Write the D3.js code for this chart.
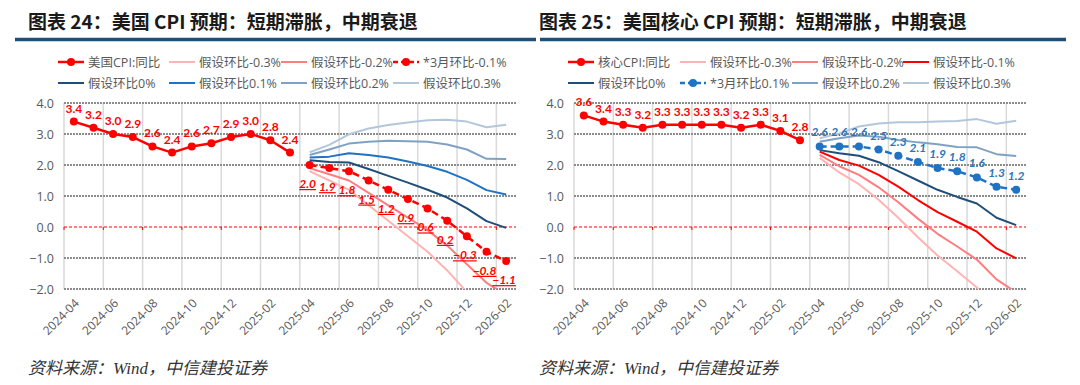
<!DOCTYPE html>
<html>
<head>
<meta charset="utf-8">
<script src="https://cdn.jsdelivr.net/npm/d3@7"></script>
<style>
  html, body { margin: 0; padding: 0; background: #fff; }
  svg { display: block; }
  text { font-family: "Lato", "Noto Sans CJK SC", sans-serif; }
</style>
</head>
<body>
<svg id="chart" width="1080" height="385"></svg>
<script>
// categories
var months = [ '2024-04', '2024-05', '2024-06', '2024-07', '2024-08', '2024-09', '2024-10', '2024-11',
               '2024-12', '2025-01', '2025-02', '2025-03', '2025-04', '2025-05', '2025-06', '2025-07',
               '2025-08', '2025-09', '2025-10', '2025-11', '2025-12', '2026-01', '2026-02' ];
var actualMonths = months.slice( 0, 12 ),
    projMonths   = months.slice( 12 );

var yTicks = [ 4, 3, 2, 1, 0, -1, -2 ];

// left chart: headline CPI
var cpiActual = [ 3.4, 3.2, 3.0, 2.9, 2.6, 2.4, 2.6, 2.7, 2.9, 3.0, 2.8, 2.4 ];
var cpiM03    = [ 1.8, 1.5, 1.2, 0.7, 0.2, -0.3, -0.8, -1.4, -2.1, -2.8, -3.3 ];
var cpiM02    = [ 1.9, 1.7, 1.5, 1.1, 0.7, 0.3, -0.1, -0.6, -1.2, -1.8, -2.2 ];
var cpiMarch  = [ 2.0, 1.9, 1.8, 1.5, 1.2, 0.9, 0.6, 0.2, -0.3, -0.8, -1.1 ];
var cpiP00    = [ 2.15, 2.1, 2.08, 1.87, 1.65, 1.43, 1.2, 0.95, 0.6, 0.19, -0.03 ];
var cpiP01    = [ 2.24, 2.27, 2.38, 2.32, 2.24, 2.11, 1.97, 1.78, 1.52, 1.19, 1.05 ];
var cpiP02    = [ 2.32, 2.5, 2.69, 2.75, 2.78, 2.77, 2.75, 2.66, 2.5, 2.2, 2.19 ];
var cpiP03    = [ 2.41, 2.65, 2.99, 3.18, 3.29, 3.37, 3.44, 3.46, 3.4, 3.22, 3.3 ];

// right chart: core CPI
var coreActual = [ 3.6, 3.4, 3.3, 3.2, 3.3, 3.3, 3.3, 3.3, 3.2, 3.3, 3.1, 2.8 ];
var coreM03    = [ 2.23, 1.76, 1.38, 0.88, 0.3, -0.33, -0.92, -1.43, -1.95, -2.69, -3.21 ];
var coreM02    = [ 2.33, 1.96, 1.68, 1.28, 0.8, 0.27, -0.22, -0.63, -1.05, -1.69, -2.11 ];
var coreM01    = [ 2.43, 2.16, 1.98, 1.68, 1.3, 0.87, 0.48, 0.17, -0.15, -0.69, -1.01 ];
var coreP00    = [ 2.48, 2.38, 2.3, 2.09, 1.8, 1.5, 1.2, 0.97, 0.76, 0.3, 0.06 ];
var coreMarch  = [ 2.6, 2.6, 2.6, 2.5, 2.3, 2.1, 1.9, 1.8, 1.6, 1.3, 1.2 ];
var coreP02    = [ 2.75, 2.86, 2.95, 2.91, 2.81, 2.73, 2.67, 2.58, 2.57, 2.35, 2.29 ];
var coreP03    = [ 2.86, 3.02, 3.24, 3.34, 3.38, 3.38, 3.4, 3.42, 3.48, 3.33, 3.43 ];

// colors
var cRed = '#ff0000', cPink2 = '#ff7c80', cPink3 = '#ffb3b3',
    cNavy = '#1f4e79', cBlue = '#1f73c4', cGrey2 = '#7fa2c4', cGrey3 = '#b3c7dc';

var svg = d3.select( '#chart' );
svg.append( 'rect' ).attr( 'width', 1080 ).attr( 'height', 385 ).attr( 'fill', '#fff' );

function drawPanel( p, idx ) {
	var g = svg.append( 'g' );

	// title + rule
	g.append( 'text' )
	 .attr( 'x', p.titleX ).attr( 'y', 29 )
	 .attr( 'font-size', 19 ).attr( 'font-weight', 'bold' ).attr( 'fill', '#1a1a1a' )
	 .style( 'font-family', '"Noto Sans CJK SC", sans-serif' )
	 .text( p.title );
	g.append( 'line' )
	 .attr( 'x1', p.ruleX[ 0 ] ).attr( 'x2', p.ruleX[ 1 ] )
	 .attr( 'y1', 39.5 ).attr( 'y2', 39.5 )
	 .attr( 'stroke', '#1f4e79' ).attr( 'stroke-width', 3.5 );

	var xScale = d3.scaleBand().domain( months ).range( [ p.left, p.right ] ).padding( 0 );
	var yScale = d3.scaleLinear().domain( [ -2, 4 ] ).range( [ 289, 103 ] );
	var bw = xScale.bandwidth();
	var cx = function( m ) { return xScale( m ) + bw / 2; };

	// vertical grid
	g.selectAll( '.vgrid' )
	 .data( months.filter( function( d, i ) { return i % 2 === 0; } ) )
	 .enter().append( 'line' )
	 .attr( 'x1', function( d ) { return xScale( d ); } )
	 .attr( 'x2', function( d ) { return xScale( d ); } )
	 .attr( 'y1', yScale( 4 ) ).attr( 'y2', yScale( -2 ) )
	 .attr( 'stroke', '#d9d9d9' ).attr( 'stroke-width', 1.5 );

	// horizontal grid
	g.selectAll( '.hgrid' )
	 .data( yTicks.filter( function( d ) { return d !== 0; } ) )
	 .enter().append( 'line' )
	 .attr( 'x1', p.left ).attr( 'x2', p.right )
	 .attr( 'y1', function( d ) { return yScale( d ); } )
	 .attr( 'y2', function( d ) { return yScale( d ); } )
	 .attr( 'stroke', '#8c8c8c' ).attr( 'stroke-width', 2 ).attr( 'stroke-dasharray', '2,1' );

	// zero line with red ticks
	g.append( 'line' )
	 .attr( 'x1', p.left ).attr( 'x2', p.right )
	 .attr( 'y1', yScale( 0 ) ).attr( 'y2', yScale( 0 ) )
	 .attr( 'stroke', cRed ).attr( 'stroke-width', 1 ).attr( 'stroke-dasharray', '3,2' );
	g.selectAll( '.ztick' )
	 .data( months.filter( function( d, i ) { return i % 2 === 0; } ) )
	 .enter().append( 'line' )
	 .attr( 'x1', function( d ) { return xScale( d ); } )
	 .attr( 'x2', function( d ) { return xScale( d ); } )
	 .attr( 'y1', yScale( 0 ) ).attr( 'y2', yScale( 0 ) + 3 )
	 .attr( 'stroke', cRed ).attr( 'stroke-width', 1 );

	// y axis
	var yAxis = d3.axisLeft( yScale ).tickValues( yTicks ).tickFormat( d3.format( '.1f' ) ).tickSize( 0 ).tickPadding( 10 );
	var ya = g.append( 'g' ).attr( 'transform', 'translate(' + p.left + ',0)' ).call( yAxis );
	ya.select( '.domain' ).remove();
	ya.selectAll( 'text' ).attr( 'fill', '#595959' ).attr( 'font-size', 12.5 ).style( 'font-family', '"Open Sans", sans-serif' );

	// x axis
	var xAxis = d3.axisBottom( xScale ).tickValues( months.filter( function( d, i ) { return i % 2 === 0; } ) ).tickSize( 0 );
	var xa = g.append( 'g' ).attr( 'transform', 'translate(0,' + yScale( -2 ) + ')' ).call( xAxis );
	xa.select( '.domain' ).remove();
	xa.selectAll( 'text' )
	  .attr( 'fill', '#595959' ).attr( 'font-size', 12 )
	  .style( 'font-family', '"Open Sans", sans-serif' )
	  .attr( 'text-anchor', 'end' ).attr( 'x', 0 ).attr( 'y', 0 ).attr( 'dy', 0 )
	  .attr( 'transform', 'translate(6,15) rotate(-45)' );

	// clip
	var clipId = 'clip' + idx;
	svg.append( 'clipPath' ).attr( 'id', clipId )
	   .append( 'rect' ).attr( 'x', p.left ).attr( 'y', yScale( 4 ) - 20 )
	   .attr( 'width', p.right - p.left ).attr( 'height', yScale( -2 ) - yScale( 4 ) + 20 );

	var line = d3.line()
		.x( function( d ) { return cx( d.m ); } )
		.y( function( d ) { return yScale( d.v ); } );

	var series = p.series;
	var lg = g.append( 'g' ).attr( 'clip-path', 'url(#' + clipId + ')' );
	series.forEach( function( s ) {
		var pts = s.values.map( function( v, i ) { return { m: s.months[ i ], v: v }; } );
		lg.append( 'path' )
		  .datum( pts )
		  .attr( 'd', line )
		  .attr( 'fill', 'none' )
		  .attr( 'stroke', s.color )
		  .attr( 'stroke-width', s.width || 2 )
		  .attr( 'stroke-dasharray', s.dash || null )
		  .attr( 'stroke-linejoin', 'round' );
		if ( s.marker ) {
			lg.selectAll( null ).data( pts ).enter().append( 'circle' )
			  .attr( 'cx', function( d ) { return cx( d.m ); } )
			  .attr( 'cy', function( d ) { return yScale( d.v ); } )
			  .attr( 'r', s.marker ).attr( 'fill', s.color );
		}
	});

	// data labels
	series.forEach( function( s ) {
		if ( !s.label ) return;
		var pts = s.values.map( function( v, i ) { return { m: s.months[ i ], v: v }; } );
		g.selectAll( null ).data( pts ).enter().append( 'text' )
		 .attr( 'x', function( d ) { return cx( d.m ) + ( s.label.dx || 0 ); } )
		 .attr( 'y', function( d ) { return yScale( d.v ) + s.label.dy; } )
		 .attr( 'text-anchor', 'middle' )
		 .attr( 'font-size', s.label.size || 12 ).attr( 'font-weight', 'bold' )
		 .attr( 'font-style', s.label.italic ? 'italic' : 'normal' )
		 .attr( 'text-decoration', s.label.underline ? 'underline' : null )
		 .attr( 'fill', s.label.color )
		 .text( function( d ) { return d3.format( '.1f' )( d.v ); } );
	});

	// legend
	var order = p.legendOrder;
	order.forEach( function( s, i ) {
		var col = i % 4, row = Math.floor( i / 4 );
		var lx = p.legendX[ col ], ly = row === 0 ? 62 : 83;
		var item = g.append( 'g' ).attr( 'transform', 'translate(' + lx + ',' + ly + ')' );
		item.append( 'line' ).attr( 'x1', 0 ).attr( 'x2', 26 ).attr( 'y1', 0 ).attr( 'y2', 0 )
		    .attr( 'stroke', s.color ).attr( 'stroke-width', s.width || 2 )
		    .attr( 'stroke-dasharray', s.dash ? '5,3' : null );
		if ( s.marker ) item.append( 'circle' ).attr( 'cx', 13 ).attr( 'cy', 0 ).attr( 'r', s.marker ).attr( 'fill', s.color );
		item.append( 'text' ).attr( 'x', 30 ).attr( 'y', 4.5 )
		    .attr( 'font-size', 12.5 ).attr( 'fill', '#595959' )
		    .style( 'font-family', '"Open Sans", "Noto Sans CJK SC", sans-serif' )
		    .text( s.name );
	});

	// source
	g.append( 'text' )
	 .attr( 'x', p.titleX ).attr( 'y', 374 )
	 .attr( 'font-size', 17 ).attr( 'font-style', 'italic' ).attr( 'fill', '#333' )
	 .style( 'font-family', '"Liberation Serif", "Noto Sans CJK SC", serif' )
	 .text( '资料来源：Wind，中信建投证券' );
}

var leftSeries = [
	{ name: '美国CPI:同比',   months: actualMonths, values: cpiActual, color: cRed, width: 2.5, marker: 4,
	  label: { dy: -9, color: cRed } },
	{ name: '假设环比-0.3%',  months: projMonths, values: cpiM03, color: cPink3 },
	{ name: '假设环比-0.2%',  months: projMonths, values: cpiM02, color: cPink2 },
	{ name: '*3月环比-0.1%',  months: projMonths, values: cpiMarch, color: cRed, width: 2.5, dash: '7,4', marker: 4,
	  label: { dy: 23, dx: -2, color: cRed, italic: true, underline: true } },
	{ name: '假设环比0%',     months: projMonths, values: cpiP00, color: cNavy },
	{ name: '假设环比0.1%',   months: projMonths, values: cpiP01, color: cBlue },
	{ name: '假设环比0.2%',   months: projMonths, values: cpiP02, color: cGrey2 },
	{ name: '假设环比0.3%',   months: projMonths, values: cpiP03, color: cGrey3 }
];

var rightSeries = [
	{ name: '核心CPI:同比',   months: actualMonths, values: coreActual, color: cRed, width: 2.5, marker: 4,
	  label: { dy: -9, color: cRed } },
	{ name: '假设环比-0.3%',  months: projMonths, values: coreM03, color: cPink3 },
	{ name: '假设环比-0.2%',  months: projMonths, values: coreM02, color: cPink2 },
	{ name: '假设环比-0.1%',  months: projMonths, values: coreM01, color: cRed },
	{ name: '假设环比0%',     months: projMonths, values: coreP00, color: cNavy },
	{ name: '*3月环比0.1%',   months: projMonths, values: coreMarch, color: cBlue, width: 2.5, dash: '7,4', marker: 4,
	  label: { dy: -10, color: '#2e75b6', italic: true } },
	{ name: '假设环比0.2%',   months: projMonths, values: coreP02, color: cGrey2 },
	{ name: '假设环比0.3%',   months: projMonths, values: coreP03, color: cGrey3 }
];

drawPanel( {
	title: '图表 24：美国 CPI 预期：短期滞胀，中期衰退',
	titleX: 28, ruleX: [ 15, 536 ], left: 64, right: 516,
	legendX: [ 58, 169, 281, 393 ],
	series: leftSeries, legendOrder: leftSeries
}, 0 );

drawPanel( {
	title: '图表 25：美国核心 CPI 预期：短期滞胀，中期衰退',
	titleX: 539, ruleX: [ 540, 1066 ], left: 574, right: 1026,
	legendX: [ 568, 680, 792, 903 ],
	series: rightSeries, legendOrder: rightSeries
}, 1 );
</script>
</body>
</html>
